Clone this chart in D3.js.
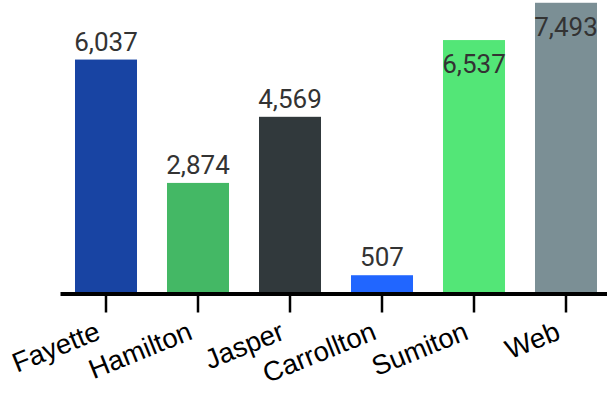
<!DOCTYPE html>
<html>
<head>
<meta charset="utf-8">
<script src="https://cdn.jsdelivr.net/npm/d3@7"></script>
<style>
  html, body { margin: 0; padding: 0; background: #fff; overflow: hidden; }
  svg { display: block; }
</style>
</head>
<body>
<svg id="chart" width="607" height="401"></svg>
<script>
const categories = ["Fayette", "Hamilton", "Jasper", "Carrollton", "Sumiton", "Web"];
const values = [6037, 2874, 4569, 507, 6537, 7493];
const colors = ["#1844A3", "#44B865", "#31393C", "#2166FF", "#53E677", "#7B8F95"];

const svg = d3.select("#chart");

const x = d3.scaleBand()
  .domain(categories)
  .range([60, 612])
  .paddingInner(0.326)
  .paddingOuter(0.163);

const y = d3.scaleLinear()
  .domain([0, 7500])
  .range([295, 2.5]);

const data = categories.map((c, i) => ({ c, v: values[i], color: colors[i] }));

// bars
svg.append("g")
  .selectAll("rect")
  .data(data)
  .join("rect")
  .attr("x", d => x(d.c))
  .attr("width", x.bandwidth())
  .attr("y", d => y(d.v))
  .attr("height", d => y(0) - y(d.v))
  .attr("fill", d => d.color);

// value labels
const fmt = d3.format(",");
svg.append("g")
  .selectAll("text")
  .data(data)
  .join("text")
  .attr("x", d => x(d.c) + x.bandwidth() / 2)
  .attr("y", d => {
    const above = y(d.v) - 9;
    return (above - 19 < 20) ? y(d.v) + 33 : above;
  })
  .attr("text-anchor", "middle")
  .attr("font-family", "Roboto, sans-serif")
  .attr("font-size", 26)
  .attr("fill", "#333333")
  .text(d => fmt(d.v));

// x axis
const axis = svg.append("g")
  .attr("transform", "translate(0,293.5)")
  .call(d3.axisBottom(x).tickSize(19).tickSizeOuter(0));

axis.select(".domain")
  .attr("stroke", "#000")
  .attr("stroke-width", 4);
axis.selectAll(".tick line")
  .attr("stroke", "#000")
  .attr("stroke-width", 2.5);
axis.selectAll(".tick text")
  .attr("y", 0)
  .attr("dy", 0)
  .attr("transform", "translate(-4,45) rotate(-22)")
  .attr("text-anchor", "end")
  .attr("font-family", "'Liberation Sans', Arial, sans-serif")
  .attr("font-size", 27.5)
  .attr("fill", "#000");
</script>
</body>
</html>
